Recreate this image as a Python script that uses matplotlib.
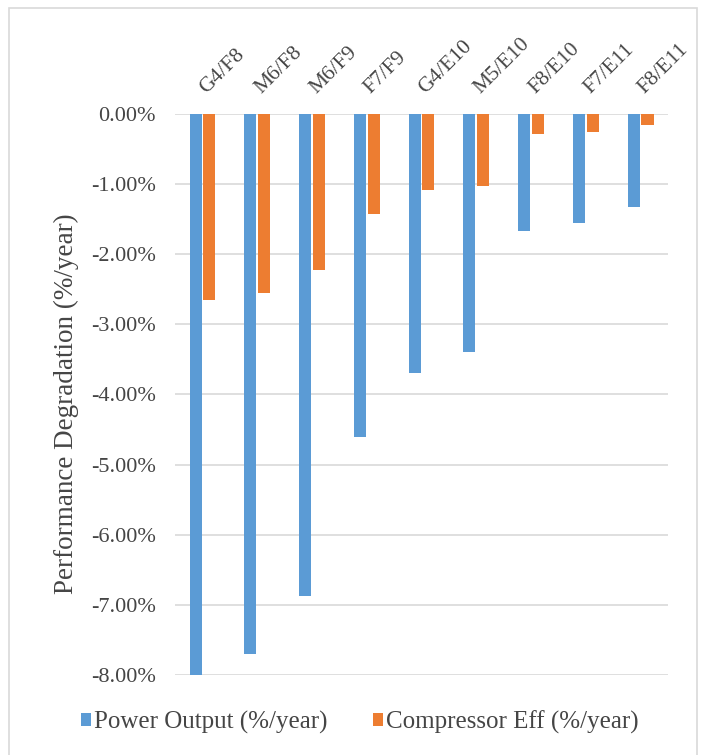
import numpy as np
import matplotlib.pyplot as plt
from matplotlib.ticker import FuncFormatter
from matplotlib.patches import Rectangle

# Degradation rates per unit pair (%/year)
units = ['G4/F8', 'M6/F8', 'M6/F9', 'F7/F9', 'G4/E10', 'M5/E10', 'F8/E10', 'F7/E11', 'F8/E11']
power_output = [-8.00, -7.70, -6.87, -4.60, -3.70, -3.40, -1.67, -1.56, -1.32]
compressor_eff = [-2.65, -2.55, -2.23, -1.43, -1.09, -1.02, -0.29, -0.25, -0.16]

plt.rcParams['font.family'] = ['Liberation Serif', 'DejaVu Serif']
txt_color = '#454545'

fig = plt.figure(figsize=(7.02, 7.55), dpi=100)
ax = fig.add_axes([0.2493, 0.106, 0.7023, 0.743])

x = np.arange(len(units))
w = 0.22
gap = 0.03
ax.bar(x - (w + gap) / 2, power_output, w, color='#5B9BD5', label='Power Output (%/year)', zorder=3)
ax.bar(x + (w + gap) / 2, compressor_eff, w, color='#ED7D31', label='Compressor Eff (%/year)', zorder=3)

ax.set_xlim(-0.5, len(units) - 0.5)
ax.set_ylim(-8, 0)
ax.set_yticks(np.arange(-8, 0.5, 1))
ax.yaxis.set_major_formatter(FuncFormatter(lambda v, p: f"{abs(v):.2f}%" if v == 0 else f"{v:.2f}%"))
ax.tick_params(axis='y', length=0, pad=14, labelsize=16, labelcolor=txt_color)
ax.set_xticks([])
ax.grid(axis='y', color='#d9d9d9', linewidth=1.2, zorder=0)
for s in ax.spines.values():
    s.set_visible(False)

# category names along the top, slanted
for i, name in enumerate(units):
    ax.annotate(name, xy=(i, 0), xytext=(5.5, 12), textcoords='offset points',
                rotation=45, rotation_mode='anchor', ha='left', va='bottom',
                fontsize=15.5, color=txt_color, annotation_clip=False)

ax.set_ylabel('Performance Degradation (%/year)', fontsize=19.5, color=txt_color)
ax.yaxis.set_label_coords(-0.195, 0.484)

ax.legend(loc='center', bbox_to_anchor=(0.375, -0.084), ncol=2, frameon=False,
          fontsize=18, labelcolor=txt_color, handlelength=0.42, handleheight=0.42,
          handletextpad=0.12, columnspacing=1.8, borderpad=0)

# light frame round the whole chart
fig.patches.append(Rectangle((0.013, -0.01), 0.98, 1.0, transform=fig.transFigure,
                             fill=False, edgecolor='#d9d9d9', linewidth=1.2))

fig.savefig('out.png', dpi=100)
